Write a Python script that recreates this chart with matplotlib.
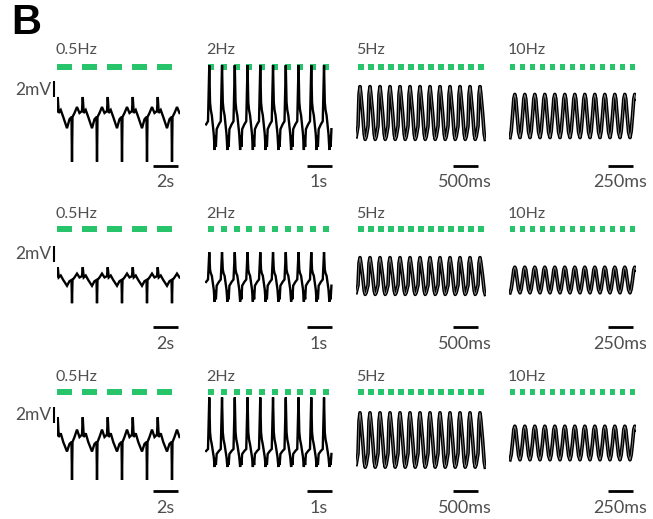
import numpy as np
import matplotlib
matplotlib.use('Agg')
import matplotlib.pyplot as plt

W, H = 653, 519

# stimulation protocol per column
freq_labels = ['0.5Hz', '2Hz', '5Hz', '10Hz']
stim_freq = [0.5, 2.0, 5.0, 10.0]          # Hz
stim_width = [1.2, 0.24, 0.12, 0.05]       # s, light pulse length
n_stim = [5, 10, 13, 13]
time_bar = [2.0, 1.0, 0.5, 0.25]           # s
time_bar_labels = ['2s', '1s', '500ms', '250ms']
volt_bar = 2.0                              # mV

# one cycle of the evoked response for each frequency
# (phase of the stimulus period, normalised deflection: +1 peak, -1 trough)
cycle_phase = [
    [0.00, 0.03, 0.07, 0.15, 0.25, 0.40, 0.50, 0.58, 0.60, 0.62, 0.70, 0.80, 0.90, 1.00],
    [0.00, 0.10, 0.16, 0.22, 0.30, 0.45, 0.52, 0.56, 0.62, 0.68, 0.85, 1.00],
    [0.00, 0.10, 0.20, 0.28, 0.45, 0.62, 0.72, 0.82, 1.00],
    [0.00, 0.12, 0.25, 0.38, 0.48, 0.58, 0.72, 0.86, 1.00],
]
cycle_value = [
    [0.30, 1.00, 0.20, 0.35, 0.00, -0.25, -0.05, 0.00, -1.00, 0.00, 0.20, 0.50, 0.20, 0.30],
    [-0.10, 1.00, 0.30, 0.15, 0.05, -0.50, -1.00, -0.55, -0.90, -0.35, -0.20, -0.10],
    [-0.50, 0.70, 1.00, 0.75, 0.05, -0.80, -1.00, -0.90, -0.50],
    [-1.00, -0.70, 0.00, 0.80, 1.00, 0.80, 0.00, -0.75, -1.00],
]

# peak / trough size of each trace in mV (rows = recordings, cols = frequency)
peak_mv = [[2.5, 6.6, 3.3, 2.7],
           [1.6, 3.1, 2.3, 1.6],
           [3.1, 6.2, 3.4, 2.1]]
trough_mv = [[5.6, 4.0, 3.3, 2.7],
             [2.9, 3.1, 2.3, 1.6],
             [4.75, 2.5, 3.4, 2.1]]

# ---- layout (pixels) ----
px_per_s = [12.5, 25.5, 50.0, 100.0]
px_per_mv = 8.0
trace_x0 = [57, 205, 356, 509]
trace_w = [123, 128, 130, 127]
stim_x0 = [57, 208, 358, 510]
tbar_x1 = [178, 332, 478, 633]
label_y = [50, 214, 377]
green_y = [67, 229, 392]
tbar_y = [166, 327, 491]
tlabel_y = [182, 344, 508]
vbar_bottom = [97, 262, 423]
vlabel_y = [90, 254, 415]
row_top = [38, 200, 362]
row_bot = [195, 355, 517]
baseline_y = [[117, 118, 113, 116],
              [280, 277, 276, 280],
              [442, 447, 440, 443]]

green = '#27c46c'
grey = '#4f4f4f'
plt.rcParams['font.family'] = ['Lato', 'DejaVu Sans']

fig = plt.figure(figsize=(W / 100, H / 100), dpi=100)
fig.text(11 / W, 1 - 23 / H, 'B', fontsize=30, fontweight='bold',
         family='Liberation Sans', va='center', ha='left')

for r in range(3):
    for c in range(4):
        base = baseline_y[r][c]
        x0, x1 = trace_x0[c], trace_x0[c] + trace_w[c]
        ax = fig.add_axes([x0 / W, 1 - row_bot[r] / H, (x1 - x0) / W,
                           (row_bot[r] - row_top[r]) / H])
        ax.set_axis_off()
        t0 = (x0 - stim_x0[c]) / px_per_s[c]
        t1 = (x1 - stim_x0[c]) / px_per_s[c]
        ax.set_xlim(t0, t1)
        ax.set_ylim((base - row_bot[r]) / px_per_mv, (base - row_top[r]) / px_per_mv)

        # trace built from the cycle shape
        period = 1.0 / stim_freq[c]
        ph = np.array(cycle_phase[c])
        val = np.array(cycle_value[c])
        mv = np.where(val > 0, val * peak_mv[r][c], val * trough_mv[r][c])
        ts, vs = [], []
        for k in range(-1, n_stim[c] + 2):
            ts.append((k + ph[:-1]) * period)
            vs.append(mv[:-1])
        ts = np.concatenate(ts)
        vs = np.concatenate(vs)
        keep = (ts >= t0) & (ts <= t1)
        if c < 2:
            ax.plot(ts[keep], vs[keep], color='black', lw=1.7, solid_joinstyle='miter')
        else:
            ax.plot(ts[keep], vs[keep], color='black', lw=2.6)
            ax.plot(ts[keep], vs[keep], color='#9a9a9a', lw=0.5)

        # light pulses
        gy = (base - green_y[r]) / px_per_mv
        ax.broken_barh([(k * period, stim_width[c]) for k in range(n_stim[c])],
                       (gy - 0.36, 0.72), facecolors=green, clip_on=False)

        # time scale bar
        te = (tbar_x1[c] - stim_x0[c]) / px_per_s[c]
        ty = (base - tbar_y[r]) / px_per_mv
        ax.plot([te - time_bar[c], te], [ty, ty], color='black', lw=2.0,
                solid_capstyle='butt', clip_on=False)

        # voltage scale bar on first column
        if c == 0:
            vb = (base - vbar_bottom[r]) / px_per_mv
            vx = -3 / px_per_s[c]
            ax.plot([vx, vx], [vb, vb + volt_bar], color='black', lw=1.5,
                    solid_capstyle='butt', clip_on=False)
            fig.text(51 / W, 1 - vlabel_y[r] / H, '2mV', fontsize=12.5, color=grey,
                     ha='right', va='center')

        fig.text((stim_x0[c] - 2) / W, 1 - label_y[r] / H, freq_labels[c],
                 fontsize=11.5, color=grey, ha='left', va='center')
        fig.text((tbar_x1[c] - 13) / W, 1 - tlabel_y[r] / H, time_bar_labels[c],
                 fontsize=13, color=grey, ha='center', va='center')

fig.savefig('out.png', dpi=100)
